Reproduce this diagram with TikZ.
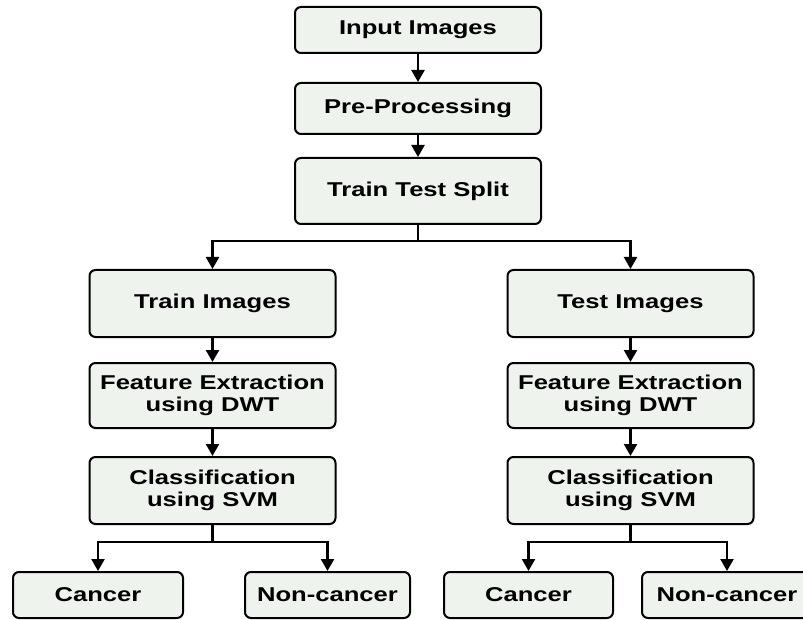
\documentclass[tikz,border=0pt]{standalone}
\usepackage{fontspec}
\newfontfamily\boxfont[FakeStretch=1.28]{Liberation Sans}
\usetikzlibrary{arrows.meta}
\definecolor{boxfill}{HTML}{EEF3EE}
\begin{document}
\begin{tikzpicture}[x=1pt,y=-1pt,
  box/.style={draw=black, line width=2pt, fill=boxfill, rounded corners=6pt,
    align=center, inner sep=0pt, minimum width=246pt,
    font=\boxfont\bfseries\fontsize{20}{22}\selectfont},
  leaf/.style={box, minimum width=168pt, minimum height=46pt},
  arr/.style={line width=2.3pt, -{Triangle[length=12pt,width=13pt]}},
  ln/.style={line width=2.3pt}]
\useasboundingbox (0,0) rectangle (803,620);
\node[box, minimum height=46pt] (in) at (418,30) {Input Images};
\node[box, minimum height=51pt] (pre) at (418,108.5) {Pre-Processing};
\node[box, minimum height=66pt] (split) at (418,191) {Train Test Split};
\node[box, minimum height=67pt] (trimg) at (212.5,303.5) {Train Images};
\node[box, minimum height=65pt] (feat1) at (212.5,395.5) {Feature Extraction\\using DWT};
\node[box, minimum height=67pt] (cls1) at (212.5,490.5) {Classification\\using SVM};
\node[box, minimum height=67pt] (teimg) at (630.5,303.5) {Test Images};
\node[box, minimum height=65pt] (feat2) at (630.5,395.5) {Feature Extraction\\using DWT};
\node[box, minimum height=67pt] (cls2) at (630.5,490.5) {Classification\\using SVM};
\node[leaf, minimum width=170pt] (c1) at (98,595) {Cancer};
\node[leaf, minimum width=165pt] (nc1) at (327.5,595) {Non-cancer};
\node[leaf, minimum width=169pt] (c2) at (528.5,595) {Cancer};
\node[leaf, minimum width=170pt] (nc2) at (727,595) {Non-cancer};
\coordinate (j0) at (418,241);
\coordinate (j1) at (212.5,542);
\coordinate (j2) at (630.5,542);
\draw[arr] (in) -- (pre);
\draw[arr] (pre) -- (split);
\draw[ln] (split.south) -- (j0);
\draw[arr] (j0) -| (trimg.north);
\draw[arr] (j0) -| (teimg.north);
\draw[arr] (trimg) -- (feat1);
\draw[arr] (feat1) -- (cls1);
\draw[arr] (teimg) -- (feat2);
\draw[arr] (feat2) -- (cls2);
\draw[ln] (cls1.south) -- (j1);
\draw[arr] (j1) -| (c1.north);
\draw[arr] (j1) -| (nc1.north);
\draw[ln] (cls2.south) -- (j2);
\draw[arr] (j2) -| (c2.north);
\draw[arr] (j2) -| (nc2.north);
\end{tikzpicture}
\end{document}
